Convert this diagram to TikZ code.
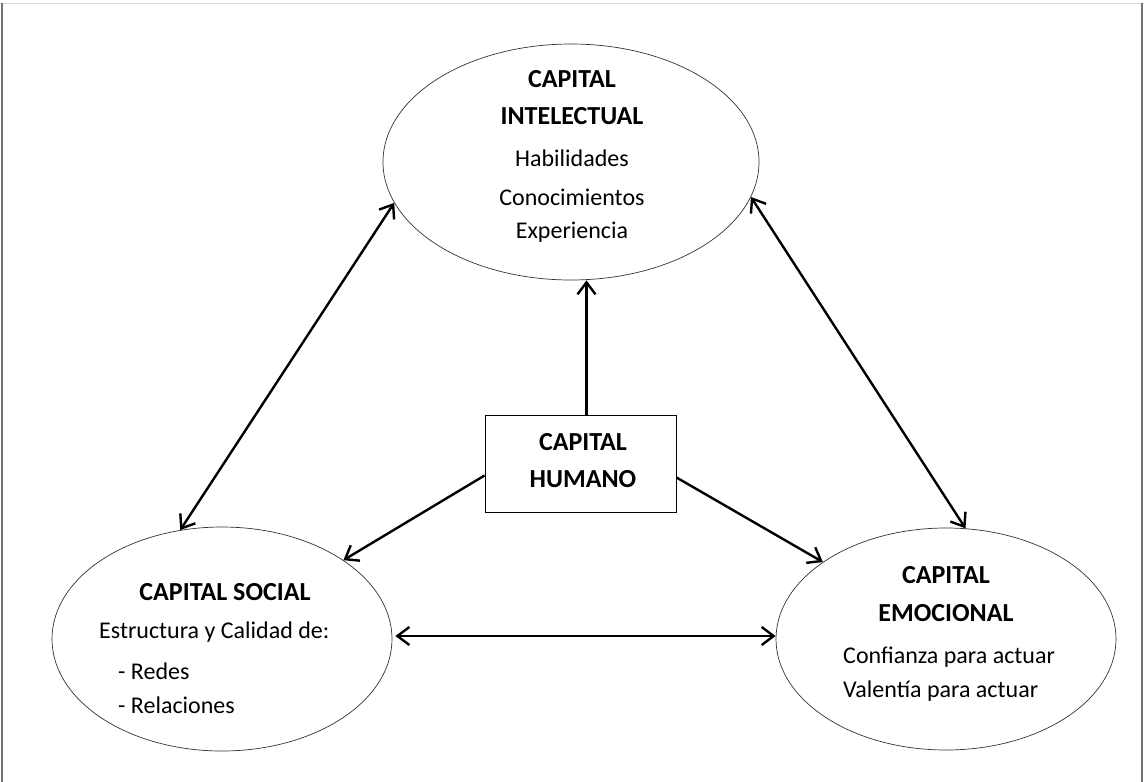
\documentclass[tikz,border=0pt]{standalone}
\usepackage{fontspec}
\setmainfont{Carlito}
\usetikzlibrary{arrows.meta,shapes.geometric}

\begin{document}
\begin{tikzpicture}[x=1pt,y=-1pt,
  oval/.style={ellipse, draw=black!80, line width=0.7pt, inner sep=0pt},
  hbox/.style={rectangle, draw=black, line width=1pt, inner sep=0pt},
  head/.style={inner sep=0pt, anchor=base, font=\fontsize{26}{30}\selectfont\bfseries},
  body/.style={inner sep=0pt, anchor=base, font=\fontsize{24}{28}\selectfont},
  bodyl/.style={body, anchor=base west},
  tip/.tip={Straight Barb[length=12pt,width=18pt]},
  link/.style={line width=2.4pt, -tip},
  dlink/.style={line width=2.4pt, tip-tip}
]
% page area and frame
\useasboundingbox (0,0) rectangle (1144,782);
\fill[white] (0,0) rectangle (1144,782);
\draw[black!15, line width=1pt] (0,3) -- (1144,3);
\draw[black!55, line width=1.2pt] (2,3) -- (2,782);
\draw[black!55, line width=1.2pt] (1142,3) -- (1142,782);

% the four shapes
\node[oval, minimum width=376pt, minimum height=236pt] (intel) at (571,162) {};
\node[oval, minimum width=340pt, minimum height=224pt] (social) at (222,639) {};
\node[oval, minimum width=340pt, minimum height=222pt] (emo) at (946,639) {};
\node[hbox, minimum width=191pt, minimum height=97pt] (hum) at (580.5,463.5) {};

% texts
\node[head] (t1) at (572,87) {CAPITAL};
\node[head] (t2) at (572,124) {INTELECTUAL};
\node[body] (t3) at (572,166) {Habilidades};
\node[body] (t4) at (572,205) {Conocimientos};
\node[body] (t5) at (572,238) {Experiencia};

\node[head] (s1) at (225,600) {CAPITAL SOCIAL};
\node[bodyl] (s2) at (99,638) {Estructura y Calidad de:};
\node[bodyl] (s3) at (118,679) {- Redes};
\node[bodyl] (s4) at (118,713) {- Relaciones};

\node[head] (e1) at (946,583) {CAPITAL};
\node[head] (e2) at (946,621) {EMOCIONAL};
\node[bodyl] (e3) at (843,663) {Confianza para actuar};
\node[bodyl] (e4) at (843,697) {Valentía para actuar};

\node[head] (h1) at (583,450) {CAPITAL};
\node[head] (h2) at (583,487) {HUMANO};

% connectors
\draw[link] ([xshift=6pt]hum.north) -- ([xshift=6pt]hum.north |- intel.south);
\draw[link] ([yshift=-12pt]hum.west) -- (social.33);
\draw[link] ([yshift=-14pt]hum.east) -- (emo.148);
\draw[dlink] (intel.193) -- (social.111);
\draw[dlink] (intel.-11) -- (emo.80);
\draw[dlink, shorten <=3pt] ([yshift=3pt]social.east) -- ([yshift=3pt]social.east -| emo.west);
\end{tikzpicture}
\end{document}
